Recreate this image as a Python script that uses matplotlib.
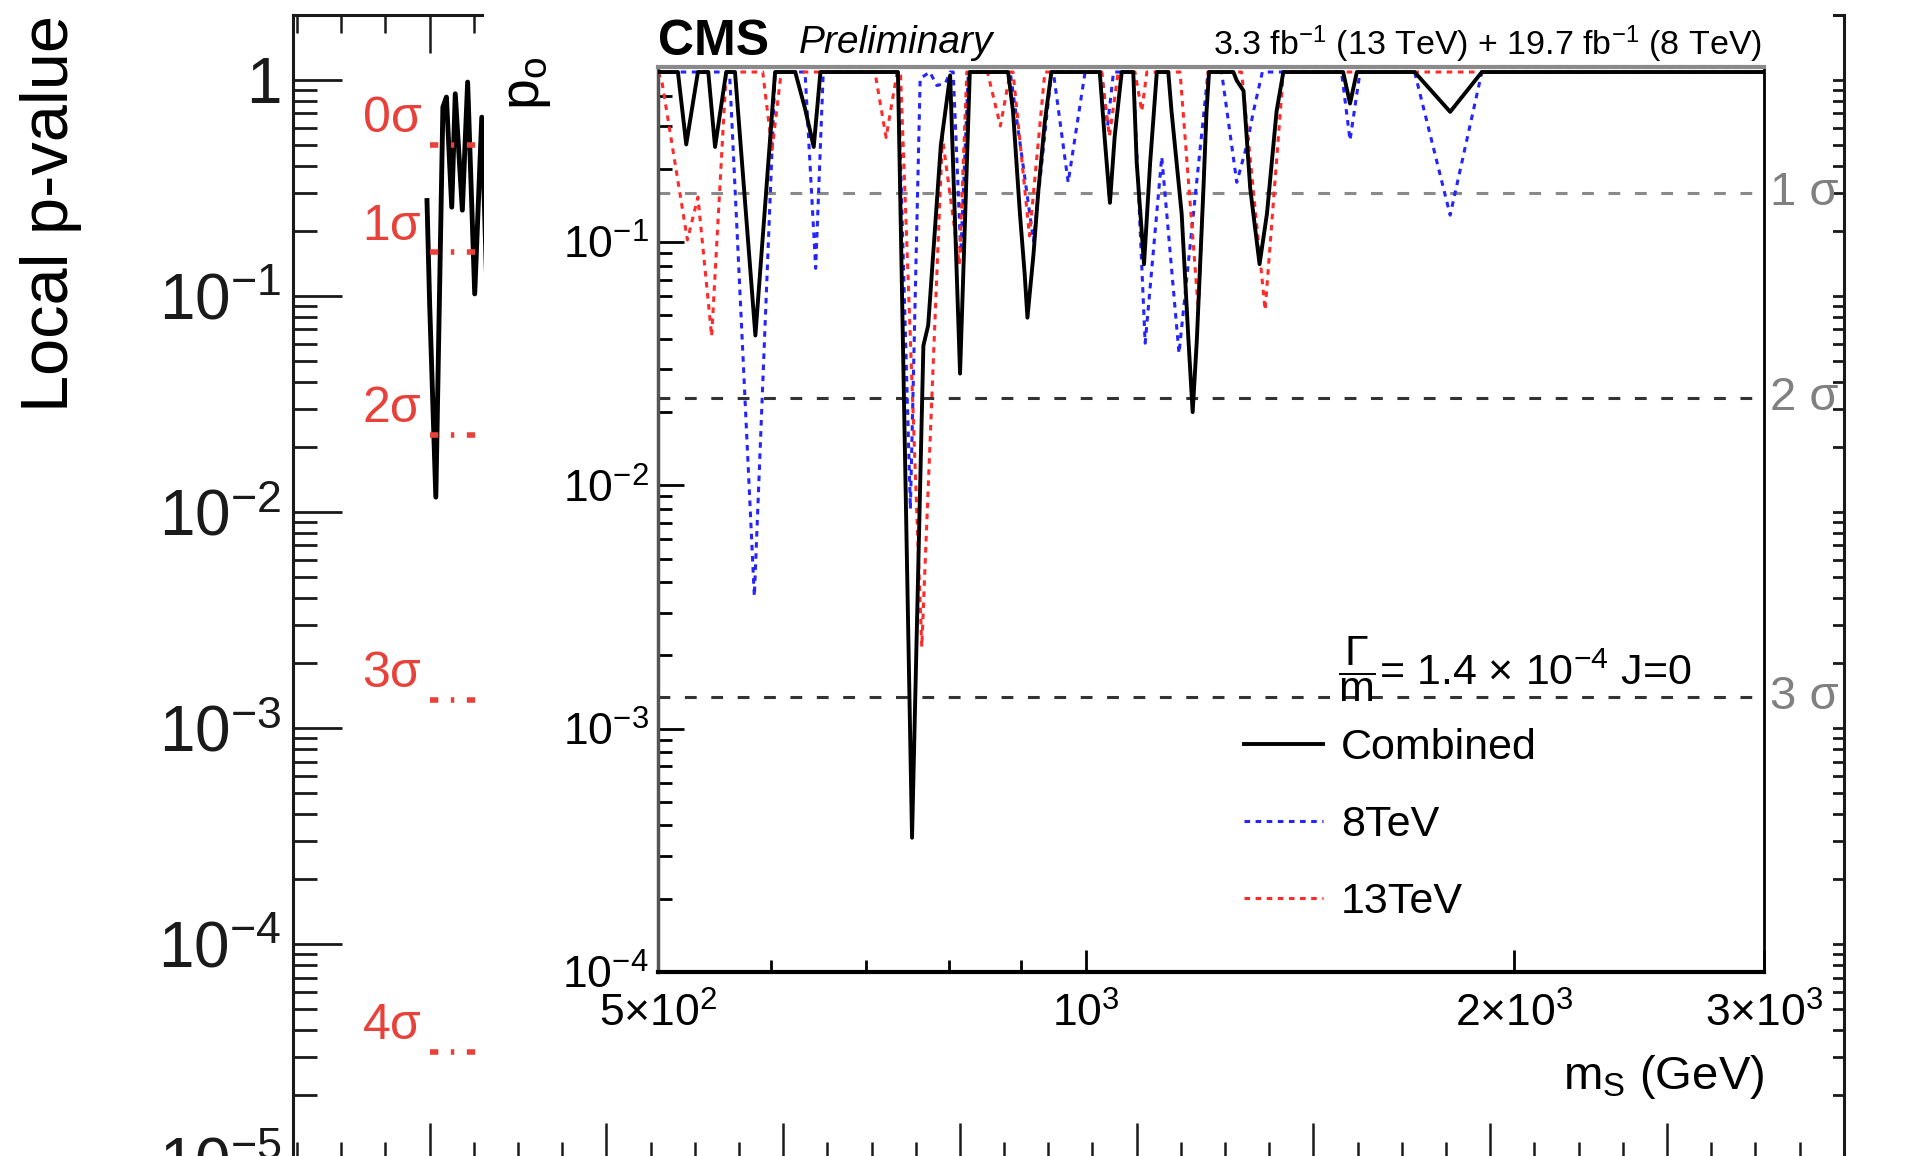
import matplotlib
matplotlib.use("Agg")
import matplotlib.pyplot as plt
from matplotlib import font_manager
from matplotlib.ticker import FixedLocator, LogLocator, MultipleLocator, NullFormatter

plt.rcParams['font.family'] = ['Liberation Sans', 'DejaVu Sans']
plt.rcParams['mathtext.fontset'] = 'custom'
plt.rcParams['mathtext.rm'] = 'Liberation Sans'
plt.rcParams['mathtext.it'] = 'Liberation Sans:italic'
plt.rcParams['mathtext.bf'] = 'Liberation Sans:bold'
plt.rcParams['lines.scale_dashes'] = False

# condensed face for the inset tick labels, if the system has it
installed = {f.name for f in font_manager.fontManager.ttflist}
if 'Liberation Sans Narrow' in installed:
    tick_family, tick_size = 'Liberation Sans Narrow', 35
else:
    tick_family, tick_size = 'Liberation Sans', 32

# --- background: local p-value scan (only the left edge is visible) ---
bg_mass = [397, 400, 407, 415, 419, 425, 429, 437, 443, 451, 459, 465, 470]
bg_pval = [0.276, 0.092, 0.0117, 0.747, 0.831, 0.257, 0.861, 0.249, 0.975, 0.102, 0.671, 0.10, 0.5]

bg_sigma_labels = ['0σ', '1σ', '2σ', '3σ', '4σ']
bg_sigma_pvals = [0.5, 0.1587, 0.02275, 0.00135, 3.17e-5]

bg_ytick_vals = [1e-5, 1e-4, 1e-3, 1e-2, 1e-1, 1]
bg_ytick_labels = [r'$\mathregular{10^{-5}}$', r'$\mathregular{10^{-4}}$', r'$\mathregular{10^{-3}}$',
                   r'$\mathregular{10^{-2}}$', r'$\mathregular{10^{-1}}$', '1']

# --- inset: CMS p0 scan, Gamma/m = 1.4e-4, J=0 ---
comb_mass = [500, 516, 523, 533, 542, 548, 558, 566, 585, 604, 624, 634, 643, 650, 737, 754, 768,
             774, 790, 802, 815, 828, 881, 888, 898, 905, 909, 918, 925, 935, 945, 1022, 1030, 1039,
             1047, 1059, 1079, 1085, 1098, 1109, 1121, 1142, 1148, 1167, 1180, 1188, 1196, 1209, 1215,
             1220, 1269, 1276, 1290, 1304, 1324, 1340, 1361, 1376, 1516, 1533, 1550, 1702, 1803, 1898,
             3000]
comb_p = [0.5, 0.5, 0.252, 0.5, 0.5, 0.246, 0.5, 0.5, 0.0413, 0.5, 0.5, 0.354, 0.246, 0.5, 0.5,
          3.56e-4, 0.0375, 0.0455, 0.25, 0.484, 0.0288, 0.5, 0.5, 0.345, 0.131, 0.0736, 0.0489, 0.0893,
          0.160, 0.313, 0.5, 0.5, 0.271, 0.145, 0.271, 0.5, 0.5, 0.213, 0.0811, 0.213, 0.5, 0.5, 0.345,
          0.131, 0.0393, 0.0200, 0.0393, 0.167, 0.345, 0.5, 0.5, 0.461, 0.419, 0.167, 0.0811, 0.131,
          0.345, 0.5, 0.5, 0.371, 0.5, 0.5, 0.343, 0.5, 0.5]

tev8_mass = [500, 561, 584, 604, 634, 645, 653, 737, 752, 764, 776, 785, 796, 802, 806, 816, 826,
             884, 918, 945, 948, 971, 998, 1025, 1035, 1045, 1079, 1100, 1130, 1162, 1218, 1245, 1276,
             1297, 1311, 1330, 1512, 1533, 1558, 1702, 1803, 1898, 3000]
tev8_p = [0.5, 0.5, 3.5e-3, 0.5, 0.5, 0.078, 0.5, 0.5, 8.0e-3, 0.47, 0.5, 0.44, 0.45, 0.5, 0.5, 0.09,
          0.5, 0.5, 0.101, 0.5, 0.5, 0.176, 0.5, 0.5, 0.30, 0.5, 0.5, 0.0384, 0.224, 0.0349, 0.5, 0.5,
          0.176, 0.25, 0.345, 0.5, 0.5, 0.262, 0.5, 0.5, 0.129, 0.5, 0.5]

tev13_mass = [500, 503, 524, 533, 545, 558, 592, 601, 610, 710, 723, 736, 740, 766, 792, 814, 824,
              852, 870, 884, 888, 912, 935, 1025, 1038, 1053, 1082, 1094, 1103, 1164, 1199, 1218,
              1286, 1336, 1376, 3000]
tev13_p = [0.5, 0.45, 0.102, 0.153, 0.041, 0.5, 0.5, 0.24, 0.5, 0.5, 0.269, 0.5, 0.5, 2.17e-3,
           0.27, 0.081, 0.5, 0.5, 0.30, 0.5, 0.5, 0.106, 0.5, 0.5, 0.272, 0.5, 0.5, 0.345, 0.5, 0.5,
           0.0526, 0.5, 0.5, 0.0526, 0.5, 0.5]

inset_sigma_labels = ['1 σ', '2 σ', '3 σ']
inset_sigma_pvals = [0.1587, 0.02275, 0.00135]
inset_sigma_colors = ['#8a8a8a', '#333333', '#333333']

inset_xtick_vals = [500, 1000, 2000, 3000]
inset_xtick_labels = [r'$\mathregular{5{\times}10^{2}}$', r'$\mathregular{10^{3}}$',
                      r'$\mathregular{2{\times}10^{3}}$', r'$\mathregular{3{\times}10^{3}}$']
inset_ytick_vals = [1e-4, 1e-3, 1e-2, 1e-1]
inset_ytick_labels = [r'$\mathregular{10^{-4}}$', r'$\mathregular{10^{-3}}$',
                      r'$\mathregular{10^{-2}}$', r'$\mathregular{10^{-1}}$']

RED = '#e8413a'

fig = plt.figure(figsize=(19.12, 11.56), dpi=100)

# background axes
ax = fig.add_axes([0.15306, -0.00369, 0.81122, 0.99103])
ax.set_yscale('log')
ax.set_ylim(1e-5, 2)
ax.set_xlim(245, 2000)
ax.plot(bg_mass, bg_pval, color='black', lw=3.5)

for lab, p in zip(bg_sigma_labels, bg_sigma_pvals):
    ax.plot([400, 560], [p, p], color=RED, lw=4, linestyle=(0, (6, 9, 2.5, 9)))
    ax.annotate(lab, xy=(400, p), xytext=(-6, 9), textcoords='offset points',
                ha='right', va='baseline', color=RED, fontsize=36)

ax.set_yticks(bg_ytick_vals)
ax.set_yticklabels(bg_ytick_labels)
ax.yaxis.set_minor_locator(LogLocator(base=10, subs=range(2, 10), numticks=20))
ax.yaxis.set_minor_formatter(NullFormatter())
ax.xaxis.set_major_locator(MultipleLocator(200))
ax.xaxis.set_minor_locator(MultipleLocator(50))
ax.tick_params(which='both', direction='in', top=True, right=True, colors='#1a1a1a')
ax.tick_params(axis='y', which='major', length=35, width=2, labelsize=46, pad=8)
ax.tick_params(axis='y', which='minor', length=17, width=2)
ax.tick_params(axis='x', which='major', length=27, width=1.8, labelbottom=False)
ax.tick_params(axis='x', which='minor', length=13, width=1.8)
for s in ax.spines.values():
    s.set_linewidth(2.2)
    s.set_color('#1a1a1a')

fig.text(42 / 1568, 1 - 175 / 948, 'Local p-value', rotation=90, fontsize=48,
         ha='center', va='center')

# white panel holding the inset
cover = fig.add_axes([0.25319, 0.03165, 0.70536, 0.96835])
cover.set_xticks([])
cover.set_yticks([])
for s in cover.spines.values():
    s.set_visible(False)
cover.set_facecolor('white')

# inset axes
ax2 = fig.add_axes([0.34439, 0.15928, 0.57844, 0.7827])
ax2.set_xscale('log')
ax2.set_yscale('log')
ax2.set_xlim(500, 3000)
ax2.set_ylim(1e-4, 0.524)

for p, c in zip(inset_sigma_pvals, inset_sigma_colors):
    ax2.axhline(p, color=c, lw=2.2, linestyle=(0, (8.5, 10.5)), zorder=1)
for lab, p in zip(inset_sigma_labels, inset_sigma_pvals):
    ax2.text(1.005, p, lab, transform=ax2.get_yaxis_transform(), ha='left', va='center',
             color='#808080', fontsize=34)

dots = (0, (4, 4))
l8, = ax2.plot(tev8_mass, tev8_p, color='#2424ff', lw=2.2, linestyle=dots, zorder=2)
l13, = ax2.plot(tev13_mass, tev13_p, color='#ff2a2a', lw=2.2, linestyle=dots, zorder=2.1)
lc, = ax2.plot(comb_mass, comb_p, color='black', lw=2.8, zorder=3)

ax2.legend(handles=[lc, l8, l13], labels=['Combined', '8TeV', '13TeV'], loc='upper left',
           bbox_to_anchor=(0.529, 0.270), frameon=False, fontsize=31, handlelength=1.84,
           handletextpad=0.42, labelspacing=0.86, borderpad=0, borderaxespad=0)
ax2.text(0.614, 0.334, r'$\dfrac{\Gamma}{\mathrm{m}}$= 1.4 × 10$^{-4}$ J=0', fontsize=31,
         transform=ax2.transAxes, ha='left', va='center')

ax2.set_xticks(inset_xtick_vals)
ax2.set_xticklabels(inset_xtick_labels, fontfamily=tick_family)
ax2.xaxis.set_minor_locator(FixedLocator([600, 700, 800, 900]))
ax2.xaxis.set_minor_formatter(NullFormatter())
ax2.set_yticks(inset_ytick_vals)
ax2.set_yticklabels(inset_ytick_labels, fontfamily=tick_family)
ax2.yaxis.set_minor_locator(LogLocator(base=10, subs=range(2, 10), numticks=20))
ax2.yaxis.set_minor_formatter(NullFormatter())
ax2.tick_params(which='both', direction='in', top=False, right=False)
ax2.tick_params(axis='x', which='major', length=16, width=2, labelsize=tick_size, pad=15)
ax2.tick_params(axis='x', which='minor', length=9, width=2)
ax2.tick_params(axis='y', which='major', length=19, width=2, labelsize=tick_size, pad=7)
ax2.tick_params(axis='y', which='minor', length=10, width=2)
ax2.spines['left'].set_color('#555555')
ax2.spines['left'].set_linewidth(2.5)
ax2.spines['bottom'].set_linewidth(3)
ax2.spines['right'].set_linewidth(2)
ax2.spines['top'].set_color('#8a8a8a')
ax2.spines['top'].set_linewidth(3)

ax2.text(0.0, 1.0135, 'CMS', fontweight='bold', fontsize=36, transform=ax2.transAxes,
         ha='left', va='baseline')
ax2.text(0.1268, 1.016, 'Preliminary', fontstyle='italic', fontsize=28, transform=ax2.transAxes,
         ha='left', va='baseline')
ax2.text(0.9978, 1.0135, r'3.3 fb$^{-1}$ (13 TeV) + 19.7 fb$^{-1}$ (8 TeV)', fontsize=24.5,
         transform=ax2.transAxes, ha='right', va='baseline')
ax2.text(1.0, -0.129, r'm$_\mathregular{S}$ (GeV)', fontsize=34, transform=ax2.transAxes,
         ha='right', va='baseline')
fig.text(432 / 1568, 1 - 68 / 948, r'p$_\mathregular{o}$', rotation=90, fontsize=40,
         ha='center', va='center')

fig.savefig('out.png', dpi=100, facecolor='white')
